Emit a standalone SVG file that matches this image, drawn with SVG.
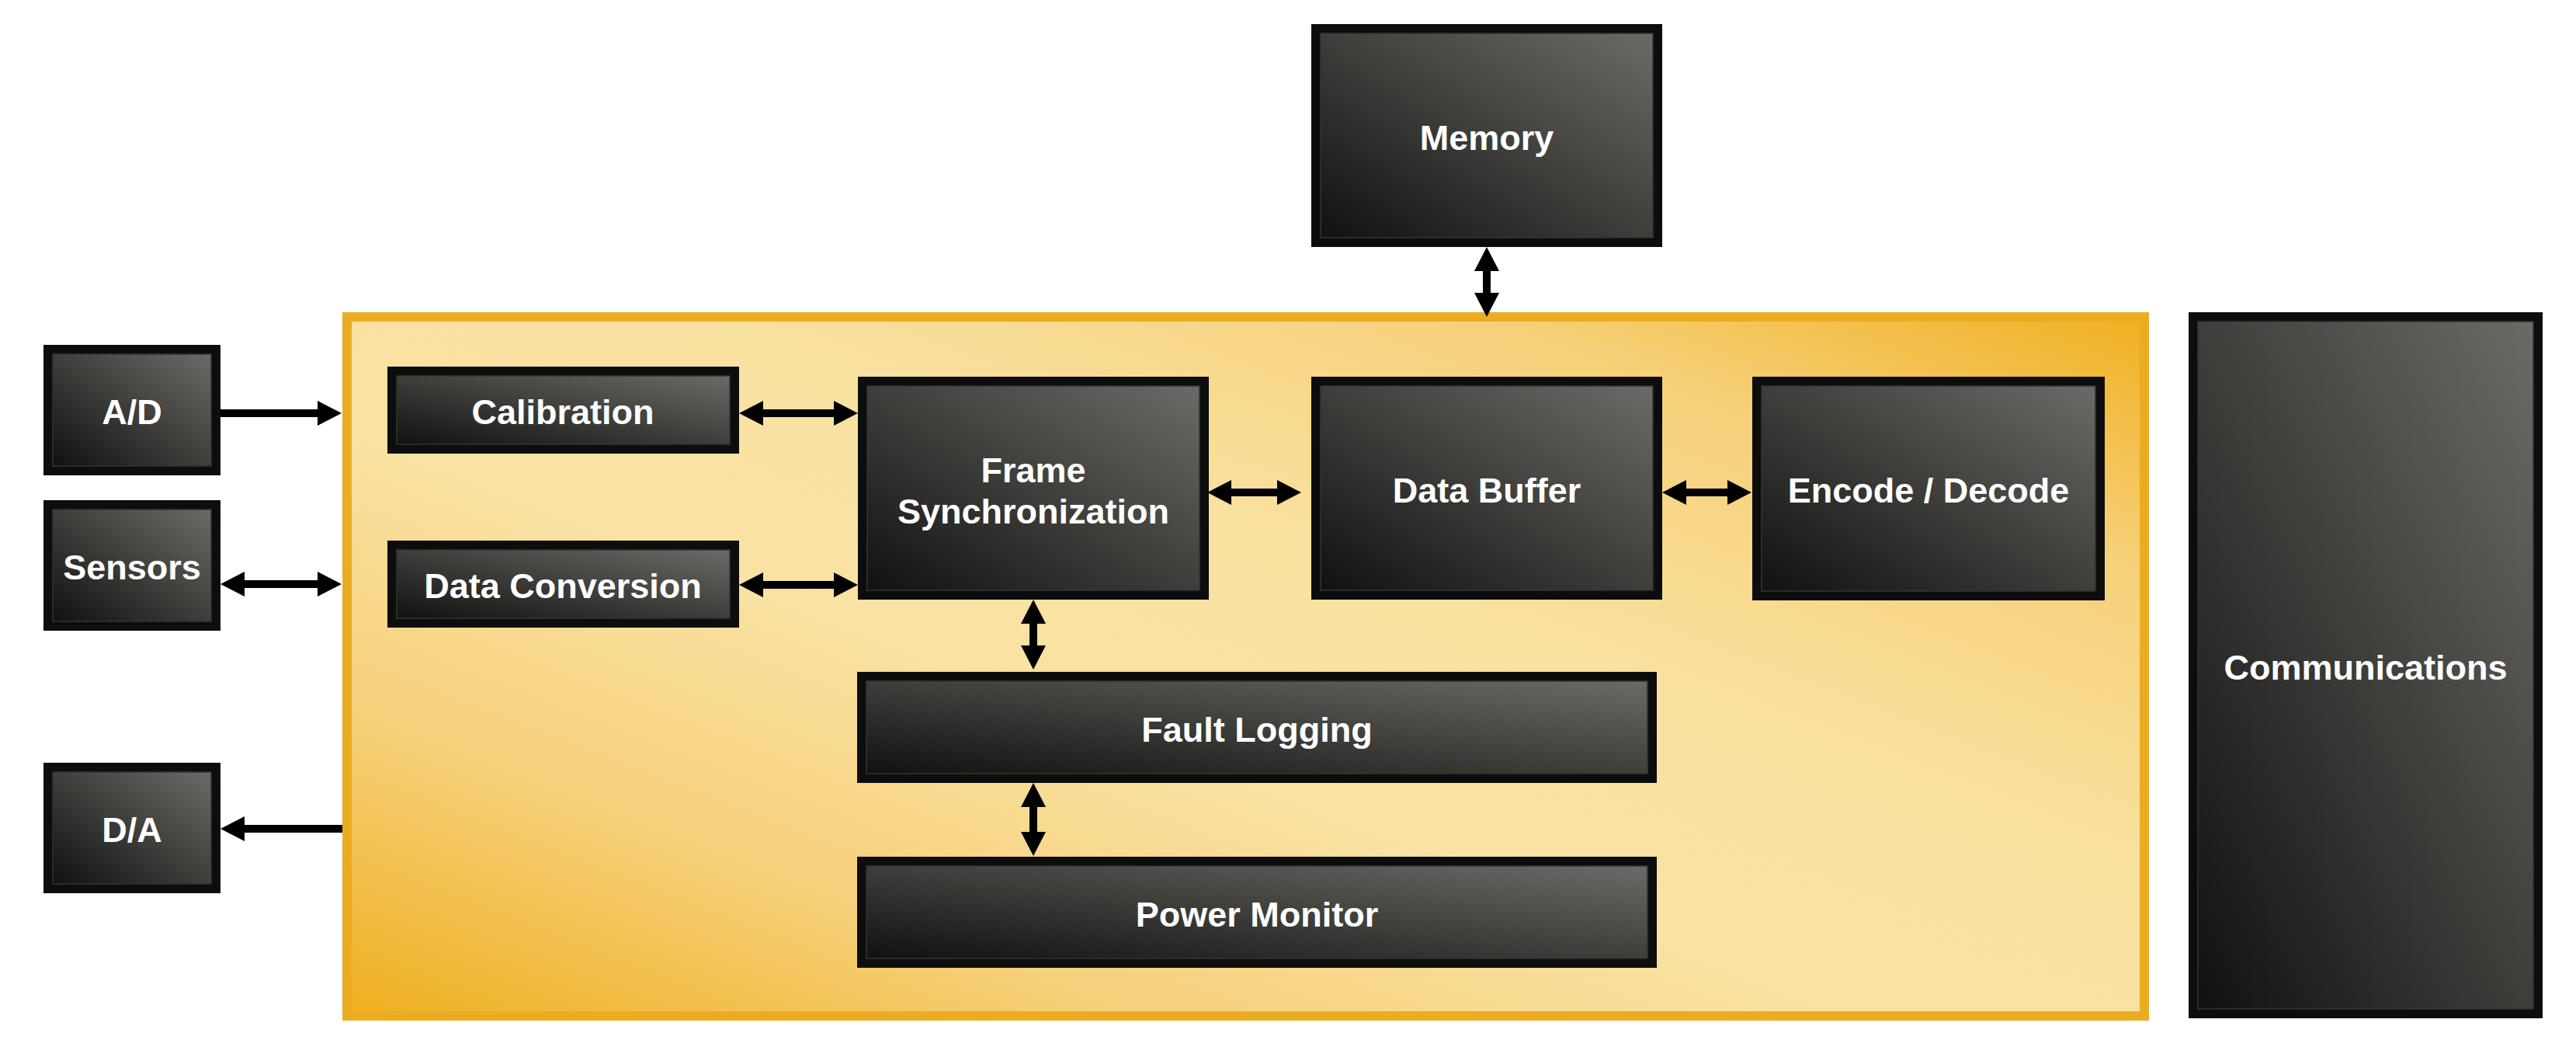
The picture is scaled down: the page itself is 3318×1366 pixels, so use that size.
<svg xmlns="http://www.w3.org/2000/svg" width="3318" height="1366" viewBox="0 0 3318 1366">
<style>
.frame{fill:#0d0d0d}
.inner{fill:url(#boxGrad);stroke:#343434;stroke-width:1.5}
.lbl{font-family:"Liberation Sans",Arial,sans-serif;font-weight:bold;font-size:45px;fill:#ffffff;text-anchor:middle}
.conn{stroke:#000;stroke-width:10;fill:none}
</style>
<defs>
<linearGradient id="boxGrad" x1="0" y1="1" x2="1" y2="0">
<stop offset="0" stop-color="#111111"/>
<stop offset="0.5" stop-color="#3e3e3b"/>
<stop offset="1" stop-color="#6a6a66"/>
</linearGradient>
<linearGradient id="contGrad" x1="0" y1="1" x2="1" y2="0">
<stop offset="0" stop-color="#EFAF1F"/>
<stop offset="0.22" stop-color="#F6D07A"/>
<stop offset="0.42" stop-color="#F9E2A3"/>
<stop offset="0.6" stop-color="#F9E1A0"/>
<stop offset="0.82" stop-color="#F6D079"/>
<stop offset="1" stop-color="#F0B021"/>
</linearGradient>
<marker id="ah" markerUnits="userSpaceOnUse" markerWidth="31" markerHeight="32" refX="0" refY="16" orient="auto-start-reverse" viewBox="0 0 31 32">
<path d="M0,0 L31,16 L0,32 z" fill="#000"/>
</marker>
</defs>
<rect width="3318" height="1366" fill="#ffffff"/>

<g id="container">
<rect x="447" y="408" width="2315" height="900" fill="url(#contGrad)" stroke="#ECAC22" stroke-width="12"/>
</g>

<g id="memory">
<rect class="frame" x="1689" y="31" width="452" height="287"/>
<rect class="inner" x="1701" y="43" width="428" height="263"/>
<text class="lbl" x="1915" y="193">Memory</text>
</g>

<g id="ad">
<rect class="frame" x="56" y="444" width="228" height="168"/>
<rect class="inner" x="68" y="456" width="204" height="144"/>
<text class="lbl" x="170" y="546">A/D</text>
</g>

<g id="sensors">
<rect class="frame" x="56" y="644" width="228" height="168"/>
<rect class="inner" x="68" y="656" width="204" height="144"/>
<text class="lbl" x="170" y="746">Sensors</text>
</g>

<g id="da">
<rect class="frame" x="56" y="982" width="228" height="168"/>
<rect class="inner" x="68" y="994" width="204" height="144"/>
<text class="lbl" x="170" y="1084">D/A</text>
</g>

<g id="calibration">
<rect class="frame" x="499" y="472" width="453" height="112"/>
<rect class="inner" x="511" y="484" width="429" height="88"/>
<text class="lbl" x="725" y="546">Calibration</text>
</g>

<g id="data-conversion">
<rect class="frame" x="499" y="696" width="453" height="112"/>
<rect class="inner" x="511" y="708" width="429" height="88"/>
<text class="lbl" x="725" y="770">Data Conversion</text>
</g>

<g id="frame-sync">
<rect class="frame" x="1105" y="485" width="452" height="287"/>
<rect class="inner" x="1117" y="497" width="428" height="263"/>
<text class="lbl" x="1331" y="621">Frame</text>
<text class="lbl" x="1331" y="674">Synchronization</text>
</g>

<g id="data-buffer">
<rect class="frame" x="1689" y="485" width="452" height="287"/>
<rect class="inner" x="1701" y="497" width="428" height="263"/>
<text class="lbl" x="1915" y="647">Data Buffer</text>
</g>

<g id="encode-decode">
<rect class="frame" x="2257" y="485" width="454" height="288"/>
<rect class="inner" x="2269" y="497" width="430" height="264"/>
<text class="lbl" x="2484" y="647">Encode / Decode</text>
</g>

<g id="fault-logging">
<rect class="frame" x="1104" y="865" width="1030" height="143"/>
<rect class="inner" x="1116" y="877" width="1006" height="119"/>
<text class="lbl" x="1619" y="955">Fault Logging</text>
</g>

<g id="power-monitor">
<rect class="frame" x="1104" y="1103" width="1030" height="143"/>
<rect class="inner" x="1116" y="1115" width="1006" height="119"/>
<text class="lbl" x="1619" y="1193">Power Monitor</text>
</g>

<g id="communications">
<rect class="frame" x="2819" y="402" width="456" height="909"/>
<rect class="inner" x="2831" y="414" width="432" height="885"/>
<text class="lbl" x="3047" y="875">Communications</text>
</g>

<g id="connectors">
<line class="conn" x1="284" y1="532" x2="409" y2="532" marker-end="url(#ah)"/>
<line class="conn" x1="315" y1="752" x2="409" y2="752" marker-start="url(#ah)" marker-end="url(#ah)"/>
<line class="conn" x1="441" y1="1067" x2="315" y2="1067" marker-end="url(#ah)"/>
<line class="conn" x1="983" y1="532" x2="1074" y2="532" marker-start="url(#ah)" marker-end="url(#ah)"/>
<line class="conn" x1="983" y1="753" x2="1074" y2="753" marker-start="url(#ah)" marker-end="url(#ah)"/>
<line class="conn" x1="1586" y1="634" x2="1645" y2="634" marker-start="url(#ah)" marker-end="url(#ah)"/>
<line class="conn" x1="2172" y1="634" x2="2225" y2="634" marker-start="url(#ah)" marker-end="url(#ah)"/>
<line class="conn" x1="1915" y1="349" x2="1915" y2="377" marker-start="url(#ah)" marker-end="url(#ah)"/>
<line class="conn" x1="1331" y1="803" x2="1331" y2="831" marker-start="url(#ah)" marker-end="url(#ah)"/>
<line class="conn" x1="1331" y1="1039" x2="1331" y2="1071" marker-start="url(#ah)" marker-end="url(#ah)"/>
</g>
</svg>
